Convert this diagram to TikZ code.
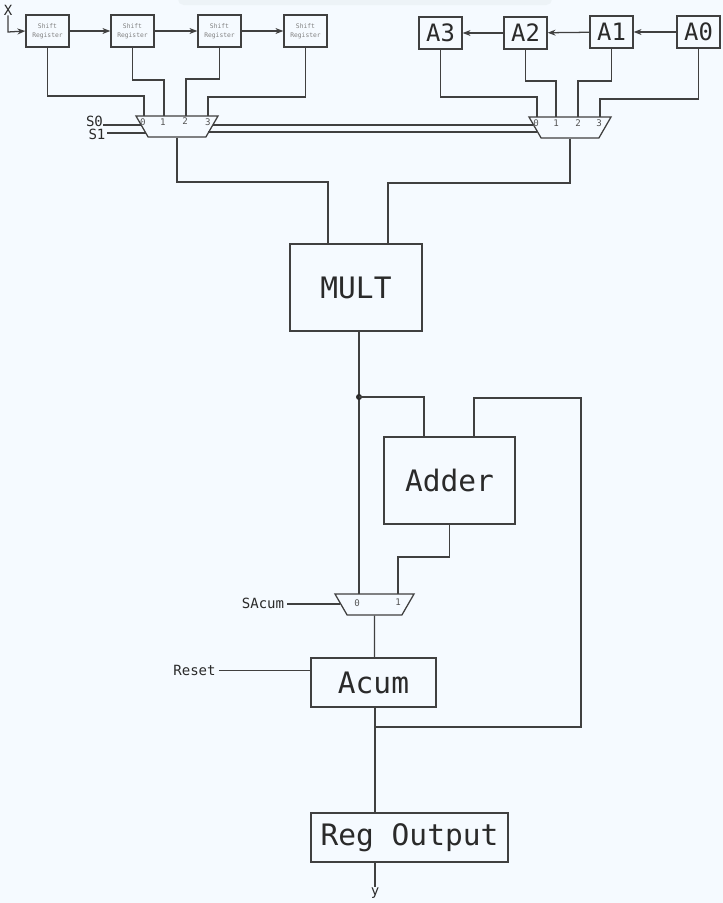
\documentclass[tikz,border=0pt]{standalone}
\usepackage{fontspec}
\setmonofont{DejaVu Sans Mono}
\usepackage[svgnames]{xcolor}
\usetikzlibrary{arrows.meta,positioning,shapes.geometric}
\definecolor{sheet}{HTML}{F5FAFF}
\definecolor{band}{HTML}{EDF3F7}
\definecolor{wire}{HTML}{404040}
\definecolor{ink}{HTML}{2A2A2A}

\begin{document}
\begin{tikzpicture}[>={Stealth[scale=0.8]},x=0.025cm,y=-0.025cm,
    wire/.style={draw=wire,line width=0.9pt},
    smallbox/.style={wire,inner sep=0pt,minimum width=1.075cm,minimum height=0.8cm,align=center,text=gray,font=\ttfamily\fontsize{4.5}{6.6}\selectfont},
    regbox/.style={wire,inner sep=0pt,minimum width=1.075cm,minimum height=0.8cm,text=ink,font=\ttfamily\fontsize{17}{20}\selectfont},
    bigbox/.style={wire,inner sep=0pt,text=ink,font=\ttfamily\fontsize{21}{25}\selectfont},
    muxbox/.style={wire,trapezium,shape border rotate=180,trapezium angle=60,trapezium stretches body=true,inner sep=0pt,text width=1pt,text height=0.525cm,text depth=0pt,minimum width=2.05cm},
    lbl/.style={inner sep=0pt,text=ink,font=\ttfamily\fontsize{10}{12}\selectfont},
    pin/.style={inner sep=0pt,text=ink!80,font=\ttfamily\fontsize{6.5}{8}\selectfont}]
    \useasboundingbox (0,0) rectangle (723,903);
    \fill[sheet] (0,0) rectangle (723,903);
    \fill[band,rounded corners=4pt] (178,-10) rectangle (552,5);

    \node[smallbox] (SR1) at (47.5,31) {Shift\\Register};
    \node[smallbox] (SR2) at (132.5,31) {Shift\\Register};
    \node[smallbox] (SR3) at (219.5,31) {Shift\\Register};
    \node[smallbox] (SR4) at (305.5,31) {Shift\\Register};

    \node[regbox] (A3) at (440.5,33) {A3};
    \node[regbox] (A2) at (525.5,33) {A2};
    \node[regbox] (A1) at (611.5,32) {A1};
    \node[regbox] (A0) at (698.5,32) {A0};

    \node[muxbox] (MUXX) at (177,126.5) {};
    \node[muxbox] (MUXA) at (570,127.5) {};
    \node[muxbox,minimum width=1.975cm] (MUXS) at (374.5,604.5) {};

    \node[bigbox,minimum width=3.3cm,minimum height=2.175cm] (MULT) at (356,287.5) {MULT};
    \node[bigbox,minimum width=3.275cm,minimum height=2.175cm] (ADD) at (449.5,480.5) {Adder};
    \node[bigbox,minimum width=3.125cm,minimum height=1.225cm] (ACUM) at (373.5,682.5) {Acum};
    \node[bigbox,minimum width=4.925cm,minimum height=1.225cm] (OUT) at (409.5,837.5) {Reg Output};

    \node[lbl] (X) at (8,10) {X};
    \node[lbl] (S0) at (94.5,121) {S0};
    \node[lbl] (S1) at (97,134) {S1};
    \node[lbl] (SA) at (263,603) {SAcum};
    \node[lbl] (RST) at (194.5,670.5) {Reset};
    \node[lbl] (Y) at (375,893) {y};

    \node[pin] (X0) at (143,122) {0};
    \node[pin] (X1) at (163,122) {1};
    \node[pin] (X2) at (185,121) {2};
    \node[pin] (X3) at (208,122) {3};
    \node[pin] (A0P) at (536,123) {0};
    \node[pin] (A1P) at (556,123) {1};
    \node[pin] (A2P) at (578,123) {2};
    \node[pin] (A3P) at (599,123) {3};
    \node[pin] (S0P) at (357,603) {0};
    \node[pin] (S1P) at (398,602) {1};

    \coordinate (XC) at (8,32);
    \draw[wire,->] (X.south) |- (XC) -- (SR1.west);
    \draw[wire,->] (SR1) -- (SR2);
    \draw[wire,->] (SR2) -- (SR3);
    \draw[wire,->] (SR3) -- (SR4);
    \draw[wire,->] (A0) -- (A1);
    \draw[wire,->] (A1) -- (A2);
    \draw[wire,->] (A2) -- (A3);

    \draw[wire] (SR1.south) |- (144,96) -- (144,116);
    \draw[wire] (SR2.south) |- (164,80) -- (164,116);
    \draw[wire] (SR3.south) |- (186,79) -- (186,116);
    \draw[wire] (SR4.south) |- (208,97) -- (208,116);
    \draw[wire] (A3.south) |- (537,97) -- (537,117);
    \draw[wire] (A2.south) |- (556,81) -- (556,117);
    \draw[wire] (A1.south) |- (578,81) -- (578,117);
    \draw[wire] (A0.south) |- (600,99) -- (600,117);

    \draw[wire] (S0.east |- 0,125) -- (141,125);
    \draw[wire] (107,133) -- (146,133);
    \draw[wire] (213,125) -- (533,125);
    \draw[wire] (208,132) -- (537,132);

    \draw[wire] (MUXX.south) |- (328,182) -- (328,244);
    \draw[wire] (MUXA.south) |- (388,183) -- (388,244);

    \coordinate (DOT) at (359,397);
    \draw[wire] (359,331) -- (DOT) -- (359,594);
    \fill[ink] (DOT) circle (3);
    \draw[wire] (DOT) -| (424,437);
    \draw[wire] (474,437) |- (581,398) |- (375,727);
    \draw[wire] (ADD.south) |- (398,557) -- (398,594);
    \draw[wire] (MUXS.south) -- (374.5,658);
    \draw[wire] (SA.east) ++(3,1) -- (340,604);
    \draw[wire] (RST.east) ++(3,0) -- (ACUM.west |- RST.east);
    \draw[wire] (375,707) -- (375,813);
    \draw[wire] (375,862) -- (Y.north);
\end{tikzpicture}
\end{document}
